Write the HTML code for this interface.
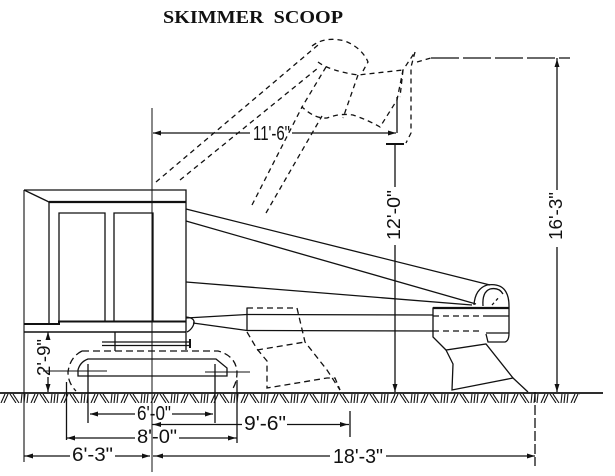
<!DOCTYPE html>
<html><head><meta charset="utf-8"><style>
html,body{margin:0;padding:0;background:#fff;}
svg{display:block;}
text{font-family:"Liberation Sans",sans-serif;fill:#111;}
</style></head><body>
<svg width="615" height="476" viewBox="0 0 615 476" xmlns="http://www.w3.org/2000/svg">
<defs>
<pattern id="h" x="0" y="394" width="30" height="9" patternUnits="userSpaceOnUse">
<path d="M1 9 L5 0 M4 9 L8 0 M10 0 L16 9 M13 0 L19 9 M22 0 L21 9 M25 0 L24 9 M28 0 L27 9" stroke="#111" stroke-width="1.1" fill="none"/>
</pattern>
</defs>
<rect width="615" height="476" fill="#fff"/>
<text x="163" y="23" font-size="18" font-weight="bold" textLength="180" lengthAdjust="spacingAndGlyphs" style="font-family:'Liberation Serif',serif">SKIMMER&#160;&#160;SCOOP</text>

<g stroke="#111" stroke-width="1.3" fill="none">
<path d="M24 190 H186 V350"/>
<path d="M24 190 V462" stroke-width="1.1"/>
<path d="M24 190 L49 202"/>
<path d="M49 202 H186" stroke-width="2.2"/>
<path d="M49 202 V323"/>
<path d="M59 321 V213 H105 V321"/>
<path d="M114 321 V213 H153 V321"/>
<path d="M24 324 H59 V321.5 H186" stroke-width="2"/>
<path d="M24 332 H186" stroke-width="1.6"/>
<path d="M115 332 V351"/>
<path d="M102 342 H190 M102 345.5 H190"/>
<path d="M190 339 V348" stroke-width="2"/>
<path d="M152 108 V472" stroke-width="1"/>
<path d="M186 209 L490 285"/>
<path d="M186 221 L476 304"/>
<path d="M186 282 L472 305"/>
<path d="M186 318 L247 314.5 L433 315"/>
<path d="M193 323 L247 330.5 L433 331"/>
<path d="M186 317 Q197 318 193 326 Q191 330 187 332"/>
<path d="M247 307.5 V331"/>
<path d="M483 308 H433 V337 L446 350 L486 344 L513 378"/>
<path d="M446 350 L453 364 L452 390 L513 378 L528 392"/>
<path d="M433 308 H509" stroke-width="2.2"/>
<path d="M433 316 H483 M433 331 H483" stroke-dasharray="6 4"/>
<path d="M474 305 Q475 289 487 285 Q501 283 506 292 Q509 297 509 306 V333 Q509 341 505 342 H488 L486 334"/>
<path d="M483 306 Q482 292 490 289 Q499 287 503 294"/>
<path d="M483 316 H509 M486 333 H509"/>
<path d="M492 305 L500 296" stroke-dasharray="3 3"/>
<g stroke-dasharray="5 4">
<path d="M156 182 L318 45"/>
<path d="M180 180 L318 68"/>
<path d="M252 205 L302 107"/>
<path d="M266 213 L322 116"/>
<path d="M312 46 Q325 36 345 41 Q362 48 368 62 L363 71"/>
<path d="M318 62 Q330 71 358 75 L403 70"/>
<path d="M326 67 L302 107 Q315 119 327 118 Q340 113 353 115 Q368 120 380 127 L397 100 L403 70 L415 52"/>
<path d="M358 75 L343 118"/>
<path d="M415 52 L411 67 L411 133 L406 143"/>
<path d="M403 70 L400 97"/>
<path d="M417 62 L431 58"/>
</g>
<path d="M431 58 H570" stroke-dasharray="28 4"/>
<path d="M397 97 V133"/>
<path d="M153 133 H250 M292 133 H396"/>
<path d="M386 144 H404" stroke-width="2"/>
<path d="M395 144 V187 M395 245 V392"/>
<path d="M557 58 V190 M557 247 V392"/>
<g stroke-dasharray="6 4">
<path d="M247 308 H297 L305 342 L327 370 L340 390"/>
<path d="M247 332 L257 349 L267 361 V388 L327 378 H335 L340 390"/>
<path d="M257 350 L305 342"/>
</g>
<path d="M82 351 H218 Q236 356 237 372 Q237 384 231 391 M82 351 Q70 357 68 372 Q68 383 76 391" stroke-dasharray="7 4"/>
<path d="M88 359 H216 L227 368 V376 H78 V370 Q80 362 88 359 Z"/>
<path d="M88 364 V423 M215 364 V423"/>
<path d="M43 371 H107 M205 372 H250" stroke-width="1"/>
<path d="M0 393 H603" stroke-width="1.8"/>
<path d="M48 332 V339 M48 377 V392"/>
<path d="M90 414 H135 M172 414 H213"/>
<path d="M152 424.5 H242 M287 424.5 H349"/>
<path d="M350 411 V437"/>
<path d="M66 438 H135 M179 438 H237"/>
<path d="M66.5 382 V440 M237 380 V443"/>
<path d="M24 456 H70 M115 456 H150"/>
<path d="M153 456 H330 M386 456 H535"/>
<path d="M535 392 V466" stroke-dasharray="10 3"/>
</g>
<rect x="0" y="394" width="580" height="9" fill="url(#h)"/>

<g fill="#111">
<polygon points="153,133 161,130.5 161,135.5"/>
<polygon points="396,133 388,130.5 388,135.5"/>
<polygon points="395,392 392.5,384 397.5,384"/>
<polygon points="557,392 554.5,384 559.5,384"/>
<polygon points="557,59 554.5,67 559.5,67"/>
<polygon points="48,332 45.5,340 50.5,340"/>
<polygon points="48,392 45.5,384 50.5,384"/>
<polygon points="90,414 98,411.5 98,416.5"/>
<polygon points="213,414 205,411.5 205,416.5"/>
<polygon points="153,424.5 161,422 161,427"/>
<polygon points="348,424.5 340,422 340,427"/>
<polygon points="67,438 75,435.5 75,440.5"/>
<polygon points="236,438 228,435.5 228,440.5"/>
<polygon points="25,456 33,453.5 33,458.5"/>
<polygon points="150,456 142,453.5 142,458.5"/>
<polygon points="155,456 163,453.5 163,458.5"/>
<polygon points="535,456 527,453.5 527,458.5"/>
</g>

<text x="253" y="140" font-size="20" textLength="37" lengthAdjust="spacingAndGlyphs">11'-6"</text>
<text x="137" y="420" font-size="20" textLength="34" lengthAdjust="spacingAndGlyphs">6'-0"</text>
<text x="244" y="430" font-size="20" textLength="42" lengthAdjust="spacingAndGlyphs">9'-6"</text>
<text x="137" y="443" font-size="19" textLength="40" lengthAdjust="spacingAndGlyphs">8'-0"</text>
<text x="72" y="461" font-size="19" textLength="41" lengthAdjust="spacingAndGlyphs">6'-3"</text>
<text x="333" y="463" font-size="20" textLength="50" lengthAdjust="spacingAndGlyphs">18'-3"</text>
<text transform="translate(50,376) rotate(-90)" font-size="18" textLength="37" lengthAdjust="spacingAndGlyphs">2'-9"</text>
<text transform="translate(400,240) rotate(-90)" font-size="18" textLength="50" lengthAdjust="spacingAndGlyphs">12'-0"</text>
<text transform="translate(562,240) rotate(-90)" font-size="18" textLength="48" lengthAdjust="spacingAndGlyphs">16'-3"</text>
</svg>
</body></html>
